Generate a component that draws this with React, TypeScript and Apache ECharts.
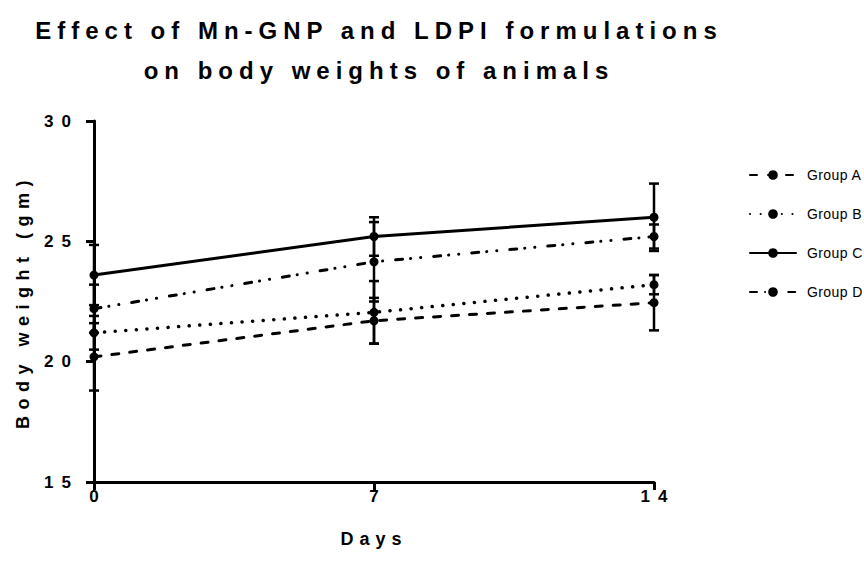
import React, { useEffect, useRef } from "react";
import * as echarts from "echarts";

const days = [0, 7, 14];
const groupNames = ["Group A", "Group B", "Group C", "Group D"];
const groupA = [20.2, 21.7, 22.45];
const groupB = [21.2, 22.05, 23.2];
const groupC = [23.6, 25.2, 26.0];
const groupD = [22.2, 24.15, 25.2];
const errA = [1.4, 0.95, 1.15];
const errB = [0.7, 1.3, 0.4];
const errC = [1.25, 0.8, 1.4];
const errD = [1.0, 1.65, 0.5];
const titleText = "Effect of Mn-GNP and LDPI formulations\non body weights of animals";
const xName = "Days";
const yName = "Body weight (gm)";

const FONT = "'Liberation Sans', Arial, Helvetica, sans-serif";

const values = [groupA, groupB, groupC, groupD];
const errors = [errA, errB, errC, errD];
const dashes: (number[] | "solid")[] = [
  [7, 11],
  [0.1, 10.5],
  "solid",
  [7, 8, 0.1, 10, 0.1, 13],
];
const widths = [3, 3.5, 3, 3];

const TICK_LS = 8;

function spacingFor(t: string): number {
  if (t.startsWith("Effect") || t.startsWith("on body")) return 6;
  if (t === yName) return 6.5;
  if (t === xName) return 6;
  if (t.startsWith("Group")) return 0.4;
  return TICK_LS;
}

export default function App() {
  const ref = useRef<HTMLDivElement>(null);
  useEffect(() => {
    document.body.style.margin = "0";
    const el = ref.current!;
    const chart = echarts.init(el, null, { renderer: "svg" });

    const lineSeries = groupNames.map((name, gi) => ({
      name,
      type: "line",
      data: days.map((d, i) => [d, values[gi][i]]),
      symbol: "circle",
      symbolSize: 9,
      itemStyle: { color: "#000" },
      lineStyle: {
        color: "#000",
        width: widths[gi],
        type: dashes[gi],
        cap: "round",
      },
      z: 3,
    }));

    const errSeries = groupNames.map((name, gi) => ({
      name: name + " err",
      type: "custom",
      data: days.map((d, i) => [d, values[gi][i] - errors[gi][i], values[gi][i] + errors[gi][i]]),
      renderItem: (params: any, api: any) => {
        const x = api.value(0);
        const lo = api.coord([x, api.value(1)]);
        const hi = api.coord([x, api.value(2)]);
        const w = 5;
        const st = { stroke: "#000", lineWidth: 2.5 };
        return {
          type: "group",
          children: [
            { type: "line", shape: { x1: lo[0], y1: lo[1], x2: hi[0], y2: hi[1] }, style: st },
            { type: "line", shape: { x1: lo[0] - w, y1: lo[1], x2: lo[0] + w, y2: lo[1] }, style: st },
            { type: "line", shape: { x1: hi[0] - w, y1: hi[1], x2: hi[0] + w, y2: hi[1] }, style: st },
          ],
        };
      },
      z: 2,
      silent: true,
    }));

    const axisLabelStyle = {
      color: "#000",
      fontFamily: FONT,
      fontWeight: "bold" as const,
      fontSize: 17,
    };

    chart.setOption({
      animation: false,
      backgroundColor: "#fff",
      title: {
        text: titleText,
        left: 374,
        top: 5,
        textAlign: "center",
        textStyle: {
          color: "#000",
          fontFamily: FONT,
          fontWeight: "bold",
          fontSize: 24,
          lineHeight: 40,
        },
      },
      legend: {
        data: groupNames,
        orient: "vertical",
        left: 744,
        top: 163,
        itemWidth: 46,
        itemHeight: 12,
        itemGap: 25,
        textStyle: { color: "#000", fontFamily: FONT, fontSize: 14, padding: [0, 0, 0, 6] },
      },
      grid: { left: 94, right: 210, top: 121, bottom: 81 },
      xAxis: {
        type: "value",
        min: 0,
        max: 14,
        interval: 7,
        name: xName,
        nameLocation: "middle",
        nameGap: 48,
        nameTextStyle: { color: "#000", fontFamily: FONT, fontWeight: "bold", fontSize: 18 },
        splitLine: { show: false },
        axisLine: { lineStyle: { color: "#000", width: 3 } },
        axisTick: { length: 8, lineStyle: { color: "#000", width: 3 } },
        axisLabel: { ...axisLabelStyle, margin: 6, padding: [0, 0, 0, TICK_LS] },
      },
      yAxis: {
        type: "value",
        min: 15,
        max: 30,
        interval: 5,
        name: yName,
        nameLocation: "middle",
        nameRotate: 90,
        nameGap: 62,
        nameTextStyle: { color: "#000", fontFamily: FONT, fontWeight: "bold", fontSize: 18 },
        splitLine: { show: false },
        axisLine: { show: true, lineStyle: { color: "#000", width: 3 } },
        axisTick: { show: true, length: 8, lineStyle: { color: "#000", width: 3 } },
        axisLabel: { ...axisLabelStyle, margin: 15 },
      },
      series: [...errSeries, ...lineSeries],
    } as any);

    const apply = () => {
      el.querySelectorAll("text").forEach((t) => {
        const s = (t.textContent || "").trim();
        t.setAttribute("letter-spacing", spacingFor(s) + "px");
      });
    };
    apply();
    chart.on("finished", apply);
    return () => {
      chart.dispose();
    };
  }, []);
  return <div ref={ref} style={{ width: 864, height: 563 }} />;
}
